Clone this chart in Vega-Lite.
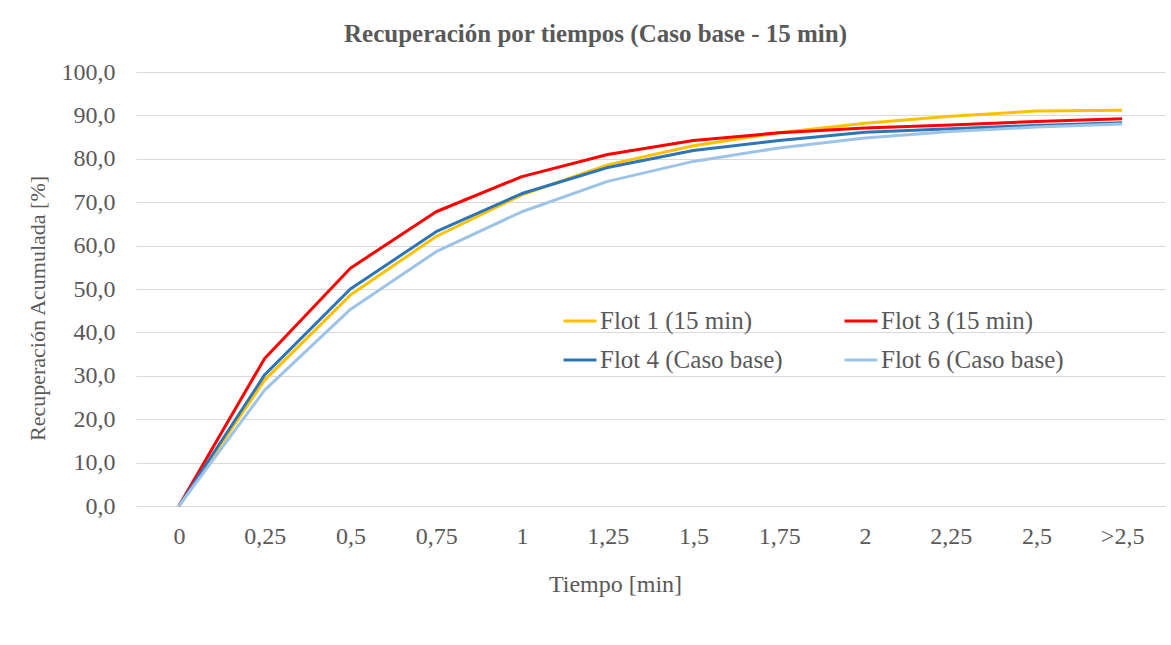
{
  "$schema": "https://vega.github.io/schema/vega-lite/v6.json",
  "width": 1029,
  "height": 434,
  "autosize": {"type": "none"},
  "padding": {"left": 136, "top": 72, "right": 6, "bottom": 139},
  "background": "white",
  "title": {
    "text": "Recuperación por tiempos (Caso base - 15 min)",
    "font": "Liberation Serif",
    "fontSize": 25,
    "fontWeight": "bold",
    "color": "#595959",
    "anchor": "middle",
    "offset": 13,
    "dx": -55
  },
  "data": {
    "values": [
      {"t": "0", "serie": "Flot 1 (15 min)", "rec": 0},
      {"t": "0,25", "serie": "Flot 1 (15 min)", "rec": 29.0},
      {"t": "0,5", "serie": "Flot 1 (15 min)", "rec": 48.6},
      {"t": "0,75", "serie": "Flot 1 (15 min)", "rec": 62.1},
      {"t": "1", "serie": "Flot 1 (15 min)", "rec": 71.7},
      {"t": "1,25", "serie": "Flot 1 (15 min)", "rec": 78.6},
      {"t": "1,5", "serie": "Flot 1 (15 min)", "rec": 83.0},
      {"t": "1,75", "serie": "Flot 1 (15 min)", "rec": 86.0},
      {"t": "2", "serie": "Flot 1 (15 min)", "rec": 88.2},
      {"t": "2,25", "serie": "Flot 1 (15 min)", "rec": 89.8},
      {"t": "2,5", "serie": "Flot 1 (15 min)", "rec": 91.0},
      {"t": ">2,5", "serie": "Flot 1 (15 min)", "rec": 91.2},

      {"t": "0", "serie": "Flot 3 (15 min)", "rec": 0},
      {"t": "0,25", "serie": "Flot 3 (15 min)", "rec": 34.0},
      {"t": "0,5", "serie": "Flot 3 (15 min)", "rec": 54.8},
      {"t": "0,75", "serie": "Flot 3 (15 min)", "rec": 67.8},
      {"t": "1", "serie": "Flot 3 (15 min)", "rec": 75.9},
      {"t": "1,25", "serie": "Flot 3 (15 min)", "rec": 81.0},
      {"t": "1,5", "serie": "Flot 3 (15 min)", "rec": 84.2},
      {"t": "1,75", "serie": "Flot 3 (15 min)", "rec": 86.0},
      {"t": "2", "serie": "Flot 3 (15 min)", "rec": 87.1},
      {"t": "2,25", "serie": "Flot 3 (15 min)", "rec": 87.8},
      {"t": "2,5", "serie": "Flot 3 (15 min)", "rec": 88.6},
      {"t": ">2,5", "serie": "Flot 3 (15 min)", "rec": 89.2},

      {"t": "0", "serie": "Flot 4 (Caso base)", "rec": 0},
      {"t": "0,25", "serie": "Flot 4 (Caso base)", "rec": 30.2},
      {"t": "0,5", "serie": "Flot 4 (Caso base)", "rec": 50.0},
      {"t": "0,75", "serie": "Flot 4 (Caso base)", "rec": 63.2},
      {"t": "1", "serie": "Flot 4 (Caso base)", "rec": 72.0},
      {"t": "1,25", "serie": "Flot 4 (Caso base)", "rec": 78.0},
      {"t": "1,5", "serie": "Flot 4 (Caso base)", "rec": 81.9},
      {"t": "1,75", "serie": "Flot 4 (Caso base)", "rec": 84.2},
      {"t": "2", "serie": "Flot 4 (Caso base)", "rec": 86.1},
      {"t": "2,25", "serie": "Flot 4 (Caso base)", "rec": 86.9},
      {"t": "2,5", "serie": "Flot 4 (Caso base)", "rec": 87.7},
      {"t": ">2,5", "serie": "Flot 4 (Caso base)", "rec": 88.3},

      {"t": "0", "serie": "Flot 6 (Caso base)", "rec": 0},
      {"t": "0,25", "serie": "Flot 6 (Caso base)", "rec": 26.7},
      {"t": "0,5", "serie": "Flot 6 (Caso base)", "rec": 45.3},
      {"t": "0,75", "serie": "Flot 6 (Caso base)", "rec": 58.6},
      {"t": "1", "serie": "Flot 6 (Caso base)", "rec": 67.8},
      {"t": "1,25", "serie": "Flot 6 (Caso base)", "rec": 74.8},
      {"t": "1,5", "serie": "Flot 6 (Caso base)", "rec": 79.4},
      {"t": "1,75", "serie": "Flot 6 (Caso base)", "rec": 82.5},
      {"t": "2", "serie": "Flot 6 (Caso base)", "rec": 84.8},
      {"t": "2,25", "serie": "Flot 6 (Caso base)", "rec": 86.3},
      {"t": "2,5", "serie": "Flot 6 (Caso base)", "rec": 87.3},
      {"t": ">2,5", "serie": "Flot 6 (Caso base)", "rec": 88.0}
    ]
  },
  "mark": {"type": "line", "strokeWidth": 3, "strokeJoin": "round", "strokeCap": "butt"},
  "encoding": {
    "x": {
      "field": "t",
      "type": "ordinal",
      "sort": ["0", "0,25", "0,5", "0,75", "1", "1,25", "1,5", "1,75", "2", "2,25", "2,5", ">2,5"],
      "scale": {"type": "point", "padding": 0.5},
      "axis": {
        "title": "Tiempo [min]",
        "titleFont": "Liberation Serif",
        "titleFontSize": 24,
        "titleFontWeight": "normal",
        "titleColor": "#595959",
        "titlePadding": 24,
        "titleX": 479,
        "titleAlign": "center",
        "labelFont": "Liberation Serif",
        "labelFontSize": 24,
        "labelColor": "#595959",
        "labelAngle": 0,
        "labelPadding": 18,
        "ticks": false,
        "domain": true,
        "domainColor": "#d9d9d9",
        "grid": false
      }
    },
    "y": {
      "field": "rec",
      "type": "quantitative",
      "scale": {"domain": [0, 100], "nice": false},
      "axis": {
        "title": "Recuperación Acumulada [%]",
        "titleFont": "Liberation Serif",
        "titleFontSize": 22,
        "titleFontWeight": "normal",
        "titleColor": "#595959",
        "titlePadding": 12,
        "titleY": 236,
        "labelFont": "Liberation Serif",
        "labelFontSize": 24,
        "labelColor": "#595959",
        "labelPadding": 21,
        "values": [0, 10, 20, 30, 40, 50, 60, 70, 80, 90, 100],
        "labelExpr": "replace(format(datum.value, '.1f'), '.', ',')",
        "ticks": false,
        "domain": false,
        "grid": true,
        "gridColor": "#d9d9d9",
        "gridWidth": 1
      }
    },
    "color": {
      "field": "serie",
      "type": "nominal",
      "scale": {
        "domain": ["Flot 1 (15 min)", "Flot 3 (15 min)", "Flot 4 (Caso base)", "Flot 6 (Caso base)"],
        "range": ["#FFC000", "#FF0000", "#2E75B6", "#9DC3E6"]
      },
      "legend": {
        "title": null,
        "orient": "none",
        "direction": "horizontal",
        "legendX": 426,
        "legendY": 231,
        "columns": 2,
        "columnPadding": 55,
        "rowPadding": 8,
        "symbolType": "stroke",
        "symbolSize": 1089,
        "symbolStrokeWidth": 3,
        "labelFont": "Liberation Serif",
        "labelFontSize": 25,
        "labelColor": "#595959",
        "labelOffset": 2,
        "labelLimit": 400
      }
    }
  },
  "config": {
    "view": {"stroke": null}
  }
}
